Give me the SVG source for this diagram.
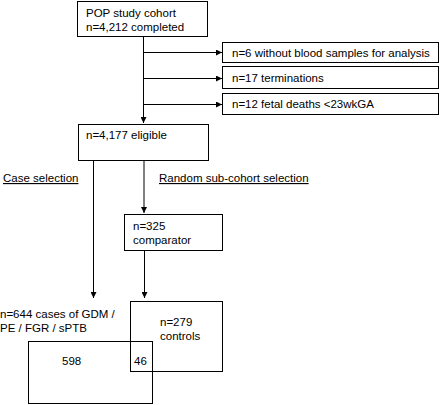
<svg xmlns="http://www.w3.org/2000/svg" width="440" height="405" viewBox="0 0 440 405">
<style>
.box{fill:#fff;stroke:#000;stroke-width:1}
.ln{fill:none;stroke:#000;stroke-width:1}
text{font-family:"Liberation Sans",Arial,sans-serif;font-size:11.5px;fill:#000}
.ul{text-decoration:underline}
</style>
<defs>
<marker id="ah" viewBox="0 0 10 10" refX="10" refY="5" markerWidth="6" markerHeight="6" markerUnits="userSpaceOnUse" orient="auto">
<path d="M0,0 L10,5 L0,10 z" fill="#000"/>
</marker>
</defs>
<rect width="440" height="405" fill="#fff"/>
<g id="connectors">
<path class="ln" d="M143.5,37 V123" marker-end="url(#ah)"/>
<path class="ln" d="M143.5,52.5 H222" marker-end="url(#ah)"/>
<path class="ln" d="M143.5,78.5 H222" marker-end="url(#ah)"/>
<path class="ln" d="M143.5,104.5 H222" marker-end="url(#ah)"/>
<path class="ln" d="M93.5,161 V298" marker-end="url(#ah)"/>
<path class="ln" d="M144,161 V213" marker-end="url(#ah)"/>
<path class="ln" d="M144.5,250 V298" marker-end="url(#ah)"/>
</g>
<g id="cohort">
<rect class="box" x="77.5" y="1.5" width="130" height="35"/>
<text x="86" y="17">POP study cohort</text>
<text x="86" y="31">n=4,212 completed</text>
</g>
<g id="excl1">
<rect class="box" x="222.5" y="42.5" width="216" height="20"/>
<text x="232" y="56.5">n=6 without blood samples for analysis</text>
</g>
<g id="excl2">
<rect class="box" x="222.5" y="66.5" width="216" height="22"/>
<text x="232" y="82">n=17 terminations</text>
</g>
<g id="excl3">
<rect class="box" x="222.5" y="93.5" width="216" height="21"/>
<text x="232" y="108">n=12 fetal deaths &lt;23wkGA</text>
</g>
<g id="eligible">
<rect class="box" x="78.5" y="124.5" width="130" height="36"/>
<text x="86" y="139">n=4,177 eligible</text>
</g>
<g id="labels">
<text class="ul" x="3" y="182">Case selection</text>
<text class="ul" x="159" y="182">Random sub-cohort selection</text>
</g>
<g id="comparator">
<rect class="box" x="124.5" y="214.5" width="98" height="36"/>
<text x="133" y="230">n=325</text>
<text x="133" y="244">comparator</text>
</g>
<g id="cases">
<text x="0" y="318">n=644 cases of GDM /</text>
<text x="0" y="332">PE / FGR / sPTB</text>
<rect class="box" x="28.5" y="341.5" width="124" height="62" fill="none" style="fill:none"/>
<text x="62" y="365">598</text>
</g>
<g id="controls">
<rect class="box" x="130.5" y="301.5" width="92" height="70" style="fill:none"/>
<text x="160" y="326">n=279</text>
<text x="160" y="340">controls</text>
<text x="134" y="365">46</text>
</g>
</svg>
